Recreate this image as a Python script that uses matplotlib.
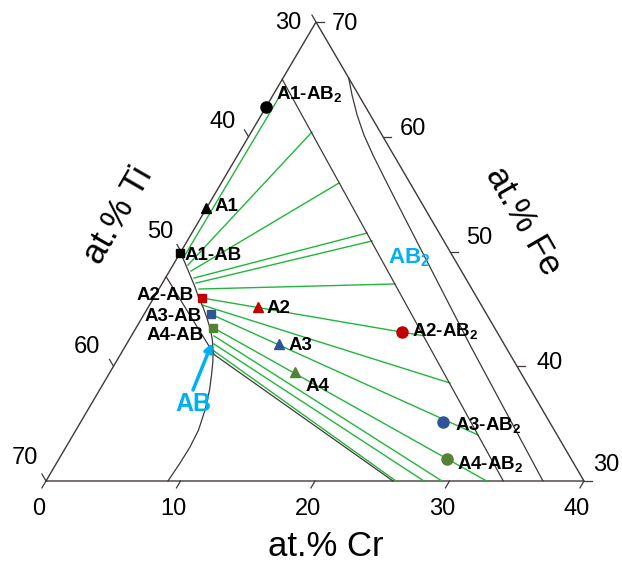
import math
import matplotlib
matplotlib.use("Agg")
import matplotlib.pyplot as plt

plt.rcParams["font.family"] = ["Liberation Sans", "DejaVu Sans"]
plt.rcParams["mathtext.fontset"] = "custom"
plt.rcParams["mathtext.rm"] = "Liberation Sans"
plt.rcParams["mathtext.bf"] = "Liberation Sans:bold"

# ---- composition window (at.%), Ti = 100 - Cr - Fe ----
cr_ticks = [0, 10, 20, 30, 40]
ti_ticks = [70, 60, 50, 40, 30]
fe_ticks = [30, 40, 50, 60, 70]

# ---- phase boundaries as (Cr, Fe) ----
ab2_left_cr = [0.0, 34.0]
ab2_left_fe = [65.0, 30.0]

ab2_right_cr = [4.88, 5.87, 7.12, 8.51, 10.05, 11.83, 13.94, 25.58, 36.95]
ab2_right_fe = [65.12, 63.64, 61.90, 60.15, 58.41, 56.49, 54.23, 41.85, 30.0]

ab_cr = [0.0, 0.80, 1.70, 2.59, 3.29, 4.06, 4.84, 5.63, 6.20, 6.69, 7.20,
         7.67, 8.18, 8.72, 9.11, 9.22, 9.18, 9.07]
ab_fe = [49.9, 49.0, 47.95, 46.91, 46.03, 45.16, 44.20, 43.16, 42.29, 41.42,
         40.37, 39.24, 37.93, 36.19, 34.44, 32.96, 31.57, 30.0]

ab_limit_cr = [0.0, 7.0, 25.8]
ab_limit_fe = [47.8, 41.0, 30.0]

# ---- tie lines AB -> AB2 ----
tie_start_cr = [0.45, 1.11, 1.60, 2.13, 2.49, 2.98, 3.59, 3.90, 4.94, 5.73, 6.15, 6.50, 6.81]
tie_start_fe = [49.4, 48.82, 48.30, 47.69, 47.25, 46.73, 45.95, 45.34, 44.55, 43.36, 42.64, 41.94, 41.33]
tie_end_cr = [0.55, 4.51, 8.75, 13.02, 13.74, 17.33, 21.69, 25.75, 30.11, 32.76, 29.44, 28.10, 26.02]
tie_end_fe = [64.4, 60.41, 55.97, 51.61, 50.92, 47.17, 42.66, 38.54, 34.01, 30.0, 30.0, 30.0, 30.0]

# ---- alloys and their equilibrium phases ----
alloys = ["A1", "A2", "A3", "A4"]
alloy_cr = [0.0, 8.16, 11.33, 13.73]
alloy_fe = [53.76, 45.19, 41.94, 39.52]
ab_phase_cr = [0.0, 3.59, 4.94, 5.73]
ab_phase_fe = [49.90, 45.95, 44.55, 43.36]
ab2_phase_cr = [0.0, 19.95, 26.95, 28.87]
ab2_phase_fe = [62.62, 42.98, 35.17, 31.92]
alloy_colors = ["black", "#c00000", "#2f5597", "#548235"]

# ---- drawing frame (pixel space) ----
W, H = 622, 563
BL = (46.0, 481.0)   # Cr 0,  Fe 30
BR = (584.0, 481.0)  # Cr 40, Fe 30
AP = (316.0, 22.0)   # Cr 0,  Fe 70


def tern(cr, fe):
    a = cr / 40.0
    b = (fe - 30.0) / 40.0
    x = BL[0] + a * (BR[0] - BL[0]) + b * (AP[0] - BL[0])
    y = BL[1] + a * (BR[1] - BL[1]) + b * (AP[1] - BL[1])
    return x, y


def tern_list(crs, fes):
    pts = [tern(c, f) for c, f in zip(crs, fes)]
    return [p[0] for p in pts], [p[1] for p in pts]


fig = plt.figure(figsize=(W / 100, H / 100), dpi=100)
ax = fig.add_axes([0, 0, 1, 1])
ax.set_xlim(0, W)
ax.set_ylim(H, 0)
ax.axis("off")

edge = "#403838"
green = "#22b53c"

# outer triangle
fx, fy = tern_list([0, 40, 0, 0], [30, 30, 70, 30])
ax.plot(fx, fy, color=edge, lw=1.0, solid_joinstyle="miter")

# ticks
tl = 8.0
lx, ly = AP[0] - BL[0], AP[1] - BL[1]
ln = math.hypot(lx, ly)
ldir = (lx / ln, ly / ln)
rx, ry = AP[0] - BR[0], AP[1] - BR[1]
rn = math.hypot(rx, ry)
rdir = (rx / rn, ry / rn)

bottom_off = (-7, 28)
for c in cr_ticks:
    x0, y0 = tern(c, 30)
    ax.plot([x0, x0 - tl * ldir[0]], [y0, y0 - tl * ldir[1]], color=edge, lw=0.9)
    ax.text(x0 + bottom_off[0], y0 + bottom_off[1], str(c), fontsize=17,
            ha="center", va="center")

left_offs = [(-21, -23), (-27, -19), (-21, -20), (-26, -15), (-28, 1)]
for t, off in zip(ti_ticks, left_offs):
    fe = 100 - t
    x0, y0 = tern(0, fe)
    ax.plot([x0, x0 + tl * rdir[0]], [y0, y0 + tl * rdir[1]], color=edge, lw=0.9)
    ax.text(x0 + off[0], y0 + off[1], str(t), fontsize=17, ha="center", va="center")

right_offs = [(22, -16), (33, -3), (29, -13), (30, -8), (29, 2)]
for f, off in zip(fe_ticks, right_offs):
    x0, y0 = tern(70 - f, f)
    ax.plot([x0, x0 + tl], [y0, y0], color=edge, lw=0.9)
    ax.text(x0 + off[0], y0 + off[1], str(f), fontsize=17, ha="center", va="center")

# axis titles
ax.text(326, 546, "at.% Cr", fontsize=25, ha="center", va="center")
ax.text(118, 215, "at.% Ti", fontsize=25, ha="center", va="center", rotation=60)
ax.text(523, 221, "at.% Fe", fontsize=25, ha="center", va="center", rotation=-60)

# tie lines
for c0, f0, c1, f1 in zip(tie_start_cr, tie_start_fe, tie_end_cr, tie_end_fe):
    xs, ys = tern_list([c0, c1], [f0, f1])
    ax.plot(xs, ys, color=green, lw=1.0, zorder=2)

# phase boundaries
for crs, fes in [(ab2_left_cr, ab2_left_fe), (ab2_right_cr, ab2_right_fe),
                 (ab_cr, ab_fe), (ab_limit_cr, ab_limit_fe)]:
    xs, ys = tern_list(crs, fes)
    ax.plot(xs, ys, color=edge, lw=0.9, zorder=3, solid_joinstyle="round")

# alloys and phases
alloy_off = [(8, 3), (8.4, 6.3), (9.3, 6), (11, 19.3)]
ab_off = [(4, 7.3), (-8.4, 2.3), (-9, 7), (-10, 12.3)]
ab2_off = [(10, -6.7), (9.7, 5), (11.7, 9.3), (10, 11)]
for i, name in enumerate(alloys):
    col = alloy_colors[i]
    x, y = tern(alloy_cr[i], alloy_fe[i])
    ax.plot(x, y, marker="^", ms=7.5, color=col, mec=col, zorder=5)
    ax.text(x + alloy_off[i][0], y + alloy_off[i][1], name, fontsize=13.5,
            fontweight="bold", ha="left", va="baseline")

    x, y = tern(ab_phase_cr[i], ab_phase_fe[i])
    ax.plot(x, y, marker="s", ms=6, color=col, mec=col, zorder=5)
    ha = "left" if i == 0 else "right"
    ax.text(x + ab_off[i][0], y + ab_off[i][1], name + "-AB", fontsize=13.5,
            fontweight="bold", ha=ha, va="baseline")

    x, y = tern(ab2_phase_cr[i], ab2_phase_fe[i])
    ax.plot(x, y, marker="o", ms=8, color=col, mec=col, zorder=5)
    ax.text(x + ab2_off[i][0], y + ab2_off[i][1], name + r"-AB$_{\mathbf{2}}$",
            fontsize=13.5, fontweight="bold", ha="left", va="baseline")

# phase field labels
cyan = "#00b0f0"
ax.text(388, 263, r"AB$_{\mathbf{2}}$", fontsize=16, fontweight="bold",
        color=cyan, ha="left", va="baseline")
lx0, ly0 = tern(7.56, 36.71)
ax.text(lx0, ly0, "AB", fontsize=18, fontweight="bold", color=cyan,
        ha="center", va="center")
tip = tern(6.31, 42.03)
tail = tern(6.95, 37.93)
ax.annotate("", xy=tip, xytext=tail,
            arrowprops=dict(arrowstyle="-|>", color=cyan, lw=2.5,
                            mutation_scale=12, shrinkA=0, shrinkB=0))

fig.savefig("out.png", dpi=100)
